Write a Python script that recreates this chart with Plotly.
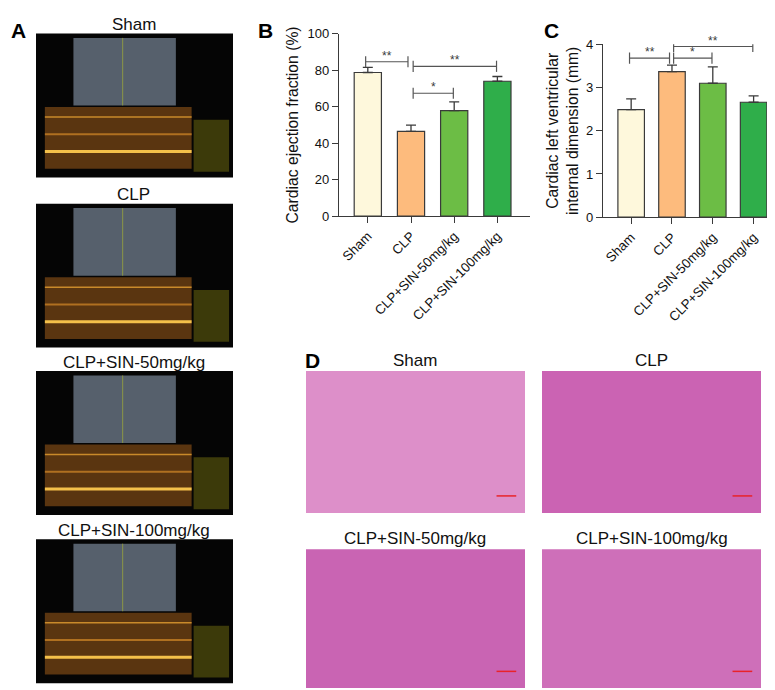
import plotly.graph_objects as go

W, H = 775, 690

groups = ["Sham", "CLP", "CLP+SIN-50mg/kg", "CLP+SIN-100mg/kg"]
bar_colors = ["#fef8dc", "#fdbb7d", "#6cbd45", "#2fae4a"]

# B: ejection fraction (%)
ef_mean = [78.8, 46.5, 57.9, 74.0]
ef_err = [2.8, 3.4, 4.8, 2.6]
ef_sig = [(0, 1, 84.7, "**"), (1, 3, 82.2, "**"), (1, 2, 67.4, "*")]

# C: LV internal dimension (mm)
lvid_mean = [2.49, 3.37, 3.10, 2.66]
lvid_err = [0.25, 0.15, 0.38, 0.15]
lvid_sig = [(0, 1, 3.68, "**"), (1, 2, 3.68, "*"), (1, 3, 3.95, "**")]

he_colors = ["#dd8fc9", "#cb63b3", "#c964b3", "#ce6fb9"]

FONT = "Arial, Liberation Sans, sans-serif"
INK = "#3a3a3a"


def px(x):
    return x / W


def py(y):
    return 1 - y / H


def rect(x0, y0, x1, y1, color, line=None):
    return dict(type="rect", xref="paper", yref="paper", x0=px(x0), x1=px(x1),
                y0=py(y1), y1=py(y0), fillcolor=color, layer="below",
                line=dict(width=0) if line is None else line)


def hline(x0, x1, y, color, width):
    return dict(type="line", xref="paper", yref="paper", x0=px(x0), x1=px(x1),
                y0=py(y), y1=py(y), line=dict(color=color, width=width))


def label(x, y, text, size, color="#111"):
    return dict(x=px(x), y=py(y), xref="paper", yref="paper", text=text,
                xanchor="center", yanchor="middle", showarrow=False,
                font=dict(size=size, color=color, family=FONT))


fig = go.Figure()

# bar panels
for vals, errs, xa, ya, bw in [(ef_mean, ef_err, "x", "y", 0.63), (lvid_mean, lvid_err, "x2", "y2", 0.65)]:
    fig.add_trace(go.Bar(
        x=list(range(len(groups))), y=vals, width=bw, xaxis=xa, yaxis=ya,
        marker=dict(color=bar_colors, line=dict(color=INK, width=1.2)),
        error_y=dict(type="data", symmetric=False, array=errs, arrayminus=[0] * len(errs),
                     color=INK, thickness=1.3, width=5),
        showlegend=False, hoverinfo="skip"))

annotations = []
for sigs, xa, ya, gap in [(ef_sig, "x", "y", 0.05), (lvid_sig, "x2", "y2", 0.04)]:
    for i, j, yv, lab in sigs:
        a = i + (gap if i == 1 else -gap if i == 0 else 0)
        b = j - (gap if j == 1 else 0) - 0.02
        fig.add_trace(go.Scatter(
            x=[a, b], y=[yv, yv], xaxis=xa, yaxis=ya, mode="lines+markers",
            line=dict(color="#555", width=1.2),
            marker=dict(symbol="line-ns-open", size=8, line=dict(color="#555", width=1.2)),
            showlegend=False, hoverinfo="skip"))
        annotations.append(dict(x=(a + b) / 2, y=yv, xref=xa, yref=ya, text=lab,
                                showarrow=False, yanchor="bottom", yshift=-3,
                                font=dict(size=12, color=INK, family=FONT)))

shapes = []

# A: echocardiography frames
us_tops = [19, 193, 364, 536]
us_x0, us_w, us_h = 28, 197, 147
for t, name in zip(us_tops, groups):
    shapes.append(rect(us_x0, t, us_x0 + us_w, t + us_h, "#050505"))
    shapes.append(rect(us_x0 + 0.19 * us_w, t + 0.03 * us_h, us_x0 + 0.71 * us_w, t + 0.50 * us_h, "#56606c"))
    shapes.append(dict(type="line", xref="paper", yref="paper",
                       x0=px(us_x0 + 0.44 * us_w), x1=px(us_x0 + 0.44 * us_w),
                       y0=py(t + 0.50 * us_h), y1=py(t + 0.03 * us_h),
                       line=dict(color="#9aa43a", width=0.8)))
    shapes.append(rect(us_x0 + 0.045 * us_w, t + 0.51 * us_h, us_x0 + 0.79 * us_w, t + 0.94 * us_h, "#5a3510"))
    shapes.append(hline(us_x0 + 0.045 * us_w, us_x0 + 0.79 * us_w, t + 0.58 * us_h, "#c98a2a", 1.5))
    shapes.append(hline(us_x0 + 0.045 * us_w, us_x0 + 0.79 * us_w, t + 0.70 * us_h, "#b07020", 2))
    shapes.append(hline(us_x0 + 0.045 * us_w, us_x0 + 0.79 * us_w, t + 0.82 * us_h, "#f4c04a", 3))
    shapes.append(rect(us_x0 + 0.80 * us_w, t + 0.60 * us_h, us_x0 + 0.98 * us_w, t + 0.96 * us_h, "#3c3a0a"))
    annotations.append(label(126, t - 9, name, 17))

# D: H&E sections
he_boxes = [(298, 364, 517, 509), (534, 364, 753, 509), (298, 546, 517, 688), (534, 546, 753, 688)]
for (x0, y0, x1, y1), name, c in zip(he_boxes, groups, he_colors):
    shapes.append(rect(x0, y0, x1, y1, c))
    shapes.append(hline(x0 + 0.87 * (x1 - x0), x0 + 0.96 * (x1 - x0), y0 + 0.88 * (y1 - y0), "#e8232a", 1.5))
    annotations.append(label((x0 + x1) / 2, y0 - 11, name, 17))

for lab, x, y in [("A", 10, 16), ("B", 257, 16), ("C", 543, 16), ("D", 304, 353)]:
    annotations.append(label(x, y, "<b>%s</b>" % lab, 21, "#000"))

axis_common = dict(showline=True, linecolor=INK, linewidth=1.3, ticks="outside", ticklen=6,
                   tickwidth=1.3, tickcolor=INK, showgrid=False, zeroline=False,
                   tickfont=dict(size=13, color="#111", family=FONT))
x_common = dict(axis_common, tickvals=list(range(len(groups))), ticktext=groups, tickangle=-45,
                tickfont=dict(size=13.3, color="#111", family=FONT))

fig.update_layout(
    width=W, height=H, autosize=False,
    margin=dict(l=0, r=0, t=0, b=0),
    paper_bgcolor="white", plot_bgcolor="white",
    font=dict(family=FONT),
    xaxis=dict(x_common, domain=[px(331), px(522)], range=[-0.667, 3.755]),
    yaxis=dict(axis_common, domain=[py(205.5), py(19.3)], range=[0, 100], tickvals=[0, 20, 40, 60, 80, 100],
               title=dict(text="Cardiac ejection fraction (%)", font=dict(size=15.7, color="#111", family=FONT), standoff=5)),
    xaxis2=dict(x_common, domain=[px(595), px(775)], range=[-0.69, 3.72], anchor="y2"),
    yaxis2=dict(axis_common, domain=[py(206.7), py(30)], range=[0, 4], tickvals=[0, 1, 2, 3, 4], anchor="x2",
                title=dict(text="Cardiac left ventricular<br>internal dimension (mm)",
                           font=dict(size=15.7, color="#111", family=FONT), standoff=3)),
    shapes=shapes, annotations=annotations,
)

fig.write_html("out.html")
